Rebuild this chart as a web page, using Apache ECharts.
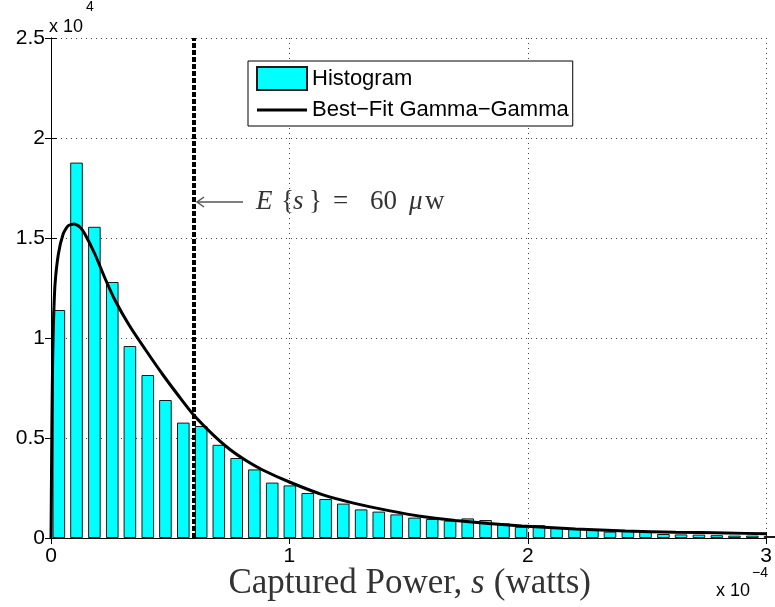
<!DOCTYPE html>
<html>
<head>
<meta charset="utf-8">
<script src="https://cdn.jsdelivr.net/npm/echarts@6/dist/echarts.min.js"></script>
<style>
  html, body { margin: 0; padding: 0; background: #fff; }
  #chart { width: 775px; height: 607px; }
</style>
</head>
<body>
<div id="chart"></div>
<script>
(function() {
    // x in units of 1e-4 W, y in units of 1e4
    const binCenters = [0.033,0.107,0.182,0.257,0.331,0.406,0.480,0.555,0.630,0.704,0.779,0.853,0.928,1.002,1.077,1.152,1.226,1.301,1.375,1.450,1.525,1.599,1.674,1.748,1.823,1.898,1.972,2.047,2.121,2.196,2.271,2.345,2.420,2.494,2.569,2.643,2.718,2.793,2.867,2.942,3.016];
    const counts = [1.14,1.877,1.556,1.28,0.96,0.815,0.69,0.577,0.56,0.466,0.40,0.343,0.277,0.263,0.225,0.195,0.172,0.143,0.132,0.118,0.102,0.095,0.087,0.098,0.09,0.073,0.056,0.064,0.05,0.047,0.043,0.032,0.037,0.03,0.02,0.018,0.017,0.014,0.012,0.012,0.01];
    const fitX = [0,0.002,0.004,0.007,0.011,0.017,0.031,0.051,0.071,0.097,0.121,0.142,0.184,0.226,0.268,0.33,0.40,0.47,0.539,0.595,0.679,0.748,0.818,0.888,1.0,1.138,1.278,1.417,1.556,1.696,1.835,1.975,2.2,2.41,2.62,2.83,3.0];
    const fitY = [0,0.3,0.6,0.9,1.1,1.27,1.42,1.52,1.56,1.57,1.555,1.52,1.42,1.30,1.19,1.06,0.935,0.815,0.705,0.62,0.517,0.445,0.387,0.34,0.28,0.217,0.172,0.137,0.108,0.088,0.072,0.06,0.045,0.035,0.029,0.025,0.021];
    const meanX = 0.6;
    const xTicks = [0, 1, 2, 3];
    const yTicks = [0, 0.5, 1, 1.5, 2, 2.5];

    const chart = echarts.init(document.getElementById('chart'));

    const sans = 'Liberation Sans';
    const serif = 'Liberation Serif';
    const fitName = 'Best\u2212Fit Gamma\u2212Gamma';

    const option = {
      animation: false,
      backgroundColor: '#fff',
      grid: { left: 51, right: 6, top: 38, bottom: 69 },
      legend: {
        orient: 'vertical',
        left: 248,
        top: 61,
        itemWidth: 50,
        itemHeight: 23,
        itemGap: 8,
        padding: [5, 4, 5, 8],
        backgroundColor: '#fff',
        borderColor: '#000',
        borderWidth: 1,
        textStyle: { fontFamily: sans, fontSize: 22, color: '#000' },
        data: [
          { name: 'Histogram', icon: 'rect' },
          { name: fitName, icon: 'path://M0,0L50,0L50,3L0,3Z', itemStyle: { color: '#000', borderWidth: 0 } }
        ]
      },
      xAxis: [
        {
          type: 'value',
          min: xTicks[0],
          max: xTicks[xTicks.length - 1],
          interval: 1,
          axisLine: { lineStyle: { color: '#000', width: 1 } },
          axisTick: { inside: true, length: 6, lineStyle: { color: '#000' } },
          axisLabel: { fontFamily: sans, fontSize: 21, color: '#000', margin: 8 },
          splitLine: { show: true, lineStyle: { color: '#444', type: [1, 4] } }
        },
        {
          type: 'value',
          position: 'top',
          min: 0, max: 3, interval: 1,
          axisLine: { lineStyle: { color: '#000', width: 1 } },
          axisTick: { inside: true, length: 6, lineStyle: { color: '#000' } },
          axisLabel: { show: false },
          splitLine: { show: false }
        }
      ],
      yAxis: [
        {
          type: 'value',
          min: yTicks[0],
          max: yTicks[yTicks.length - 1],
          interval: 0.5,
          axisLine: { show: true, lineStyle: { color: '#000', width: 1 } },
          axisTick: { show: true, inside: true, length: 6, lineStyle: { color: '#000' } },
          axisLabel: { fontFamily: sans, fontSize: 21, color: '#000', margin: 6 },
          splitLine: { show: true, lineStyle: { color: '#444', type: [1, 4] } }
        },
        {
          type: 'value',
          position: 'right',
          min: 0, max: 2.5, interval: 0.5,
          axisLine: { show: true, lineStyle: { color: '#000', width: 1 } },
          axisTick: { show: true, inside: true, length: 6, lineStyle: { color: '#000' } },
          axisLabel: { show: false },
          splitLine: { show: false }
        }
      ],
      series: [
        {
          name: 'Histogram',
          type: 'bar',
          barWidth: 12.6,
          clip: true,
          data: binCenters.map((x, i) => [x, counts[i]]),
          itemStyle: { color: '#00ffff', borderColor: '#1a1a1a', borderWidth: 1 }
        },
        {
          name: fitName,
          type: 'line',
          symbol: 'none',
          smooth: 0.2,
          data: fitX.map((x, i) => [x, fitY[i]]),
          lineStyle: { color: '#000', width: 3 },
          itemStyle: { color: '#000' },
          markLine: {
            silent: true,
            symbol: 'none',
            label: { show: false },
            lineStyle: { color: '#000', width: 4, type: [5, 2] },
            data: [{ xAxis: meanX }]
          }
        }
      ]
    };

    chart.setOption(option);

    // annotation anchored to the mean line
    const p = chart.convertToPixel({ xAxisIndex: 0, yAxisIndex: 0 }, [meanX, 1.68]);
    const ax = p[0] + 3, ay = p[1];
    const txt = (x, s, italic) => ({
      type: 'text', x: ax + x, y: ay,
      style: {
        text: s, fontFamily: serif, fontSize: 27, fontStyle: italic ? 'italic' : 'normal',
        fill: '#333', verticalAlign: 'middle', align: 'left'
      }
    });

    chart.setOption({
      graphic: [
        { type: 'line', shape: { x1: ax, y1: ay, x2: ax + 46, y2: ay }, style: { stroke: '#555', lineWidth: 1.5 } },
        { type: 'polyline', shape: { points: [[ax + 7, ay - 5], [ax, ay], [ax + 7, ay + 5]] }, style: { stroke: '#555', lineWidth: 1.5, fill: null } },
        txt(59, 'E', true),
        txt(84, '{', false),
        txt(96, 's', true),
        txt(112, '}', false),
        txt(136, '=', false),
        txt(173, '60', false),
        txt(212, '\u03bc', true),
        txt(228, 'w', false),
        // x 10^4
        { type: 'text', left: 49, top: 18, style: { text: 'x 10', fontFamily: sans, fontSize: 18, fill: '#000' } },
        { type: 'text', left: 86, top: 0, style: { text: '4', fontFamily: sans, fontSize: 14, fill: '#000' } },
        // x 10^-4
        { type: 'text', left: 716, top: 582, style: { text: 'x 10', fontFamily: sans, fontSize: 18, fill: '#000' } },
        { type: 'text', left: 752, top: 566, style: { text: '\u22124', fontFamily: sans, fontSize: 14, fill: '#000' } },
        // x-axis title
        {
          type: 'text', x: 471, y: 584,
          style: { text: 'Captured Power, ', fontFamily: serif, fontSize: 35, fill: '#333', align: 'right', verticalAlign: 'middle' }
        },
        {
          type: 'text', x: 471, y: 584,
          style: { text: 's', fontFamily: serif, fontStyle: 'italic', fontSize: 35, fill: '#333', align: 'left', verticalAlign: 'middle' }
        },
        {
          type: 'text', x: 485, y: 584,
          style: { text: ' (watts)', fontFamily: serif, fontSize: 35, fill: '#333', align: 'left', verticalAlign: 'middle' }
        }
      ]
    });

    window.addEventListener('resize', () => chart.resize());
})();
</script>
</body>
</html>
